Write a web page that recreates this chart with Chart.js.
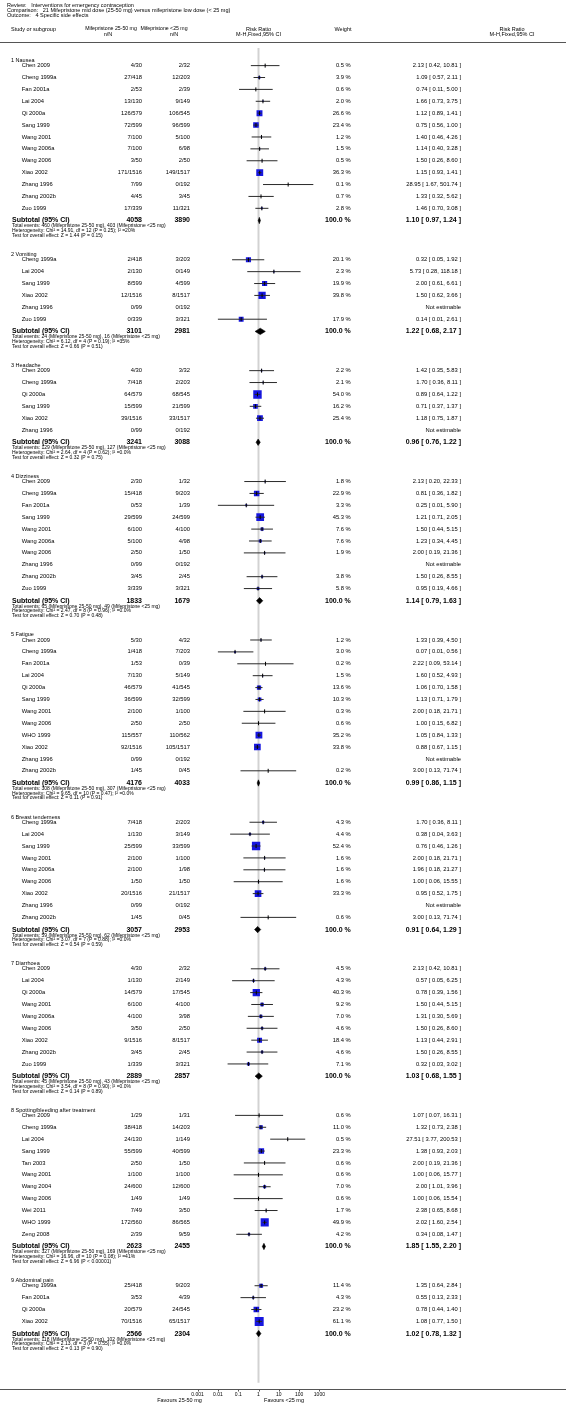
<!DOCTYPE html>
<html>
<head>
<meta charset="utf-8">
<script src="https://cdn.jsdelivr.net/npm/chart.js@4.4.1/dist/chart.umd.min.js"></script>
<style>
  html, body { margin: 0; padding: 0; background: #fff; }
  canvas { display: block; }
</style>
</head>
<body>
<canvas id="forest" width="566" height="1412"></canvas>
<script>
// subgroups and how many study rows each one has
const sections = ["1 Nausea", "2 Vomiting", "3 Headache", "4 Dizziness", "5 Fatigue",
  "6 Breast tenderness", "7 Diarrhoea", "8 Spotting/bleeding after treatment", "9 Abdominal pain"];
const sectionSizes = [13, 6, 6, 10, 12, 9, 9, 11, 4];

const studies = [
  "Chen 2009", "Cheng 1999a", "Fan 2001a", "Lai 2004", "Qi 2000a", "Sang 1999", "Wang 2001", "Wang 2006a", "Wang 2006", "Xiao 2002", "Zhang 1996", "Zhang 2002b", "Zuo 1999",
  "Cheng 1999a", "Lai 2004", "Sang 1999", "Xiao 2002", "Zhang 1996", "Zuo 1999",
  "Chen 2009", "Cheng 1999a", "Qi 2000a", "Sang 1999", "Xiao 2002", "Zhang 1996",
  "Chen 2009", "Cheng 1999a", "Fan 2001a", "Sang 1999", "Wang 2001", "Wang 2006a", "Wang 2006", "Zhang 1996", "Zhang 2002b", "Zuo 1999",
  "Chen 2009", "Cheng 1999a", "Fan 2001a", "Lai 2004", "Qi 2000a", "Sang 1999", "Wang 2001", "Wang 2006", "WHO 1999", "Xiao 2002", "Zhang 1996", "Zhang 2002b",
  "Cheng 1999a", "Lai 2004", "Sang 1999", "Wang 2001", "Wang 2006a", "Wang 2006", "Xiao 2002", "Zhang 1996", "Zhang 2002b",
  "Chen 2009", "Lai 2004", "Qi 2000a", "Wang 2001", "Wang 2006a", "Wang 2006", "Xiao 2002", "Zhang 2002b", "Zuo 1999",
  "Chen 2009", "Cheng 1999a", "Lai 2004", "Sang 1999", "Tan 2003", "Wang 2001", "Wang 2004", "Wang 2006", "Wei 2011", "WHO 1999", "Zeng 2008",
  "Cheng 1999a", "Fan 2001a", "Qi 2000a", "Xiao 2002"
];

// Mifepristone 25-50 mg  n/N
const midDose = [
  "4/30", "27/418", "2/53", "13/130", "126/579", "72/599", "7/100", "7/100", "3/50", "171/1516", "7/99", "4/45", "17/339",
  "2/418", "2/130", "8/599", "12/1516", "0/99", "0/339",
  "4/30", "7/418", "64/579", "15/599", "39/1516", "0/99",
  "2/30", "15/418", "0/53", "29/599", "6/100", "5/100", "2/50", "0/99", "3/45", "3/339",
  "5/30", "1/418", "1/53", "7/130", "46/579", "36/599", "2/100", "2/50", "115/557", "92/1516", "0/99", "1/45",
  "7/418", "1/130", "25/599", "2/100", "2/100", "1/50", "20/1516", "0/99", "1/45",
  "4/30", "1/130", "14/579", "6/100", "4/100", "3/50", "9/1516", "3/45", "1/339",
  "1/29", "38/418", "24/130", "55/599", "2/50", "1/100", "24/600", "1/49", "7/49", "172/560", "2/39",
  "25/418", "3/53", "20/579", "70/1516"
];

// Mifepristone <25 mg  n/N
const lowDose = [
  "2/32", "12/203", "2/39", "9/149", "106/545", "96/599", "5/100", "6/98", "2/50", "149/1517", "0/192", "3/45", "11/321",
  "3/203", "0/149", "4/599", "8/1517", "0/192", "3/321",
  "3/32", "2/203", "68/545", "21/599", "33/1517", "0/192",
  "1/32", "9/203", "1/39", "24/599", "4/100", "4/98", "1/50", "0/192", "2/45", "3/321",
  "4/32", "7/203", "0/39", "5/149", "41/545", "32/599", "1/100", "2/50", "110/562", "105/1517", "0/192", "0/45",
  "2/203", "3/149", "33/599", "1/100", "1/98", "1/50", "21/1517", "0/192", "0/45",
  "2/32", "2/149", "17/545", "4/100", "3/98", "2/50", "8/1517", "2/45", "3/321",
  "1/31", "14/203", "1/149", "40/599", "1/50", "1/100", "12/600", "1/49", "3/50", "86/565", "9/59",
  "9/203", "4/39", "24/545", "65/1517"
];

// weight % (null = not estimable)
const weights = [
  0.5, 3.9, 0.6, 2.0, 26.6, 23.4, 1.2, 1.5, 0.5, 36.3, 0.1, 0.7, 2.8,
  20.1, 2.3, 19.9, 39.8, null, 17.9,
  2.2, 2.1, 54.0, 16.2, 25.4, null,
  1.8, 22.9, 3.3, 45.3, 7.6, 7.6, 1.9, null, 3.8, 5.8,
  1.2, 3.0, 0.2, 1.5, 13.6, 10.3, 0.3, 0.6, 35.2, 33.8, null, 0.2,
  4.3, 4.4, 52.4, 1.6, 1.6, 1.6, 33.3, null, 0.6,
  4.5, 4.3, 40.3, 9.2, 7.0, 4.6, 18.4, 4.6, 7.1,
  0.6, 11.0, 0.5, 23.3, 0.6, 0.6, 7.0, 0.6, 1.7, 49.9, 4.2,
  11.4, 4.3, 23.2, 61.1
];

const riskRatio = [
  2.13, 1.09, 0.74, 1.66, 1.12, 0.75, 1.40, 1.14, 1.50, 1.15, 28.95, 1.33, 1.46,
  0.32, 5.73, 2.00, 1.50, null, 0.14,
  1.42, 1.70, 0.89, 0.71, 1.18, null,
  2.13, 0.81, 0.25, 1.21, 1.50, 1.23, 2.00, null, 1.50, 0.95,
  1.33, 0.07, 2.22, 1.60, 1.06, 1.13, 2.00, 1.00, 1.05, 0.88, null, 3.00,
  1.70, 0.38, 0.76, 2.00, 1.96, 1.00, 0.95, null, 3.00,
  2.13, 0.57, 0.78, 1.50, 1.31, 1.50, 1.13, 1.50, 0.32,
  1.07, 1.32, 27.51, 1.38, 2.00, 1.00, 2.00, 1.00, 2.38, 2.02, 0.34,
  1.35, 0.55, 0.78, 1.08
];

const ciLow = [
  0.42, 0.57, 0.11, 0.73, 0.89, 0.56, 0.46, 0.40, 0.26, 0.93, 1.67, 0.32, 0.70,
  0.05, 0.28, 0.61, 0.62, null, 0.01,
  0.35, 0.36, 0.64, 0.37, 0.75, null,
  0.20, 0.36, 0.01, 0.71, 0.44, 0.34, 0.19, null, 0.26, 0.19,
  0.39, 0.01, 0.09, 0.52, 0.70, 0.71, 0.18, 0.15, 0.84, 0.67, null, 0.13,
  0.36, 0.04, 0.46, 0.18, 0.18, 0.06, 0.52, null, 0.13,
  0.42, 0.05, 0.39, 0.44, 0.30, 0.26, 0.44, 0.26, 0.03,
  0.07, 0.73, 3.77, 0.93, 0.19, 0.06, 1.01, 0.06, 0.65, 1.60, 0.08,
  0.64, 0.13, 0.44, 0.77
];

const ciHigh = [
  10.81, 2.11, 5.00, 3.75, 1.41, 1.00, 4.26, 3.28, 8.60, 1.41, 501.74, 5.62, 3.08,
  1.92, 118.18, 6.61, 3.66, null, 2.61,
  5.83, 8.11, 1.22, 1.37, 1.87, null,
  22.33, 1.82, 5.90, 2.05, 5.15, 4.45, 21.36, null, 8.55, 4.66,
  4.50, 0.56, 53.14, 4.93, 1.58, 1.79, 21.71, 6.82, 1.33, 1.15, null, 71.74,
  8.11, 3.63, 1.26, 21.71, 21.27, 15.55, 1.75, null, 71.74,
  10.81, 6.25, 1.56, 5.15, 5.69, 8.60, 2.91, 8.55, 3.02,
  16.31, 2.38, 200.53, 2.03, 21.36, 15.77, 3.96, 15.54, 8.68, 2.54, 1.47,
  2.84, 2.33, 1.40, 1.50
];

// subtotals per subgroup
const subTotalMid = [4058, 3101, 3241, 1833, 4176, 3057, 2889, 2623, 2566];
const subTotalLow = [3890, 2981, 3088, 1679, 4033, 2953, 2857, 2455, 2304];
const subRR = [1.10, 1.22, 0.96, 1.14, 0.99, 0.91, 1.03, 1.85, 1.02];
const subLow = [0.97, 0.68, 0.76, 0.79, 0.86, 0.64, 0.68, 1.55, 0.78];
const subHigh = [1.24, 2.17, 1.22, 1.63, 1.15, 1.29, 1.55, 2.20, 1.32];
const eventsMid = [460, 24, 129, 65, 308, 59, 45, 327, 118];
const eventsLow = [403, 16, 127, 49, 307, 62, 43, 169, 102];
const chiSq = ["14.91", "6.12", "2.64", "2.47", "9.65", "3.07", "3.54", "16.96", "2.13"];
const dfs = [12, 4, 4, 8, 10, 7, 8, 10, 3];
const pHet = ["0.25", "0.19", "0.62", "0.96", "0.47", "0.88", "0.90", "0.08", "0.55"];
const iSq = ["20%", "35%", "0.0%", "0.0%", "0.0%", "0.0%", "0.0%", "41%", "0.0%"];
const zVal = ["1.44", "0.66", "0.32", "0.70", "0.11", "0.54", "0.14", "6.96", "0.13"];
const pOverall = ["= 0.15", "= 0.51", "= 0.75", "= 0.48", "= 0.91", "= 0.59", "= 0.89", "< 0.00001", "= 0.90"];

const tickValues = [0.001, 0.01, 0.1, 1, 10, 100, 1000];
const tickLabels = ["0.001", "0.01", "0.1", "1", "10", "100", "1000"];

// ---- layout (pixels) ----
const W = 566, H = 1412;
const FIRST_LABEL = 54.5, LABEL_GAP = 5.3, PITCH = 12, SUB_GAP = 12.3, NEXT_GAP = 34.3;
const HEADER_LINE = 42, AXIS_Y = 1389;
const FONT = '"Liberation Sans", Arial, sans-serif';

const rowY = [], labelY = [], subY = [];
let cursor = FIRST_LABEL;
sectionSizes.forEach((n, s) => {
  labelY.push(cursor);
  for (let i = 0; i < n; i++) rowY.push(cursor + LABEL_GAP + i * PITCH);
  subY.push(cursor + LABEL_GAP + (n - 1) * PITCH + SUB_GAP);
  cursor = subY[s] + NEXT_GAP;
});

const est = studies.map((s, i) => i).filter(i => riskRatio[i] != null);

const datasets = [];
// line of no effect
datasets.push({
  data: [{ x: 1, y: HEADER_LINE }, { x: 1, y: AXIS_Y }],
  showLine: true, borderColor: '#d2d2d2', borderWidth: 2, pointRadius: 0, order: 9
});
// weight squares
datasets.push({
  data: est.map(i => ({ x: riskRatio[i], y: rowY[i] })),
  pointStyle: 'rect',
  pointRadius: est.map(i => 1.15 * Math.sqrt(weights[i]) / Math.SQRT2),
  backgroundColor: '#1616e0', borderWidth: 0, order: 4
});
// confidence intervals
est.forEach(i => {
  datasets.push({
    data: [{ x: ciLow[i], y: rowY[i] }, { x: ciHigh[i], y: rowY[i] }],
    showLine: true, borderColor: '#2a2a2a', borderWidth: 1, pointRadius: 0, order: 3
  });
});
// point estimate ticks
datasets.push({
  data: est.map(i => ({ x: riskRatio[i], y: rowY[i] })),
  pointStyle: 'line', rotation: 90, pointRadius: 2,
  borderColor: '#000', borderWidth: 1, order: 2
});
// subtotal diamonds
subRR.forEach((v, s) => {
  const y = subY[s], h = 3.2;
  datasets.push({
    data: [{ x: subLow[s], y }, { x: v, y: y - h }, { x: subHigh[s], y }, { x: v, y: y + h }, { x: subLow[s], y }],
    showLine: true, fill: 'shape', borderColor: '#000', backgroundColor: '#000',
    borderWidth: 0.6, pointRadius: 0, order: 1
  });
});

function fmt(v) { return v.toFixed(2); }
function ci(r, l, h) { return fmt(r) + ' [ ' + fmt(l) + ', ' + fmt(h) + ' ]'; }

function put(ctx, s, x, y, align, size, bold) {
  ctx.font = (bold ? 'bold ' : '') + size + 'px ' + FONT;
  ctx.textAlign = align;
  ctx.textBaseline = 'middle';
  ctx.fillText(s, x, y);
}

const forestText = {
  id: 'forestText',
  afterDraw(chart) {
    const ctx = chart.ctx;
    const ys = chart.scales.y, xs = chart.scales.x;
    const Y = v => ys.getPixelForValue(v);
    ctx.save();
    ctx.fillStyle = '#000';

    put(ctx, 'Review:   Interventions for emergency contraception', 7, 5, 'left', 5.5);
    put(ctx, 'Comparison:   21 Mifepristone mid dose (25-50 mg) versus mifepristone low dose (< 25 mg)', 7, 10, 'left', 5.5);
    put(ctx, 'Outcome:   4 Specific side effects', 7, 15, 'left', 5.5);

    const h1 = 29, h2 = 34;
    put(ctx, 'Study or subgroup', 11, h1, 'left', 5.5);
    put(ctx, 'Mifepristone 25-50 mg', 111, h1, 'center', 5.2);
    put(ctx, 'n/N', 108, h2, 'center', 5.5);
    put(ctx, 'Mifepristone <25 mg', 164, h1, 'center', 5.2);
    put(ctx, 'n/N', 174, h2, 'center', 5.5);
    put(ctx, 'Risk Ratio', xs.getPixelForValue(1), h1, 'center', 5.5);
    put(ctx, 'M-H,Fixed,95% CI', xs.getPixelForValue(1), h2, 'center', 5.5);
    put(ctx, 'Weight', 343, h1, 'center', 5.5);
    put(ctx, 'Risk Ratio', 512, h1, 'center', 5.5);
    put(ctx, 'M-H,Fixed,95% CI', 512, h2, 'center', 5.5);

    ctx.strokeStyle = '#555';
    ctx.lineWidth = 1;
    ctx.beginPath();
    ctx.moveTo(0, HEADER_LINE + 0.5); ctx.lineTo(W, HEADER_LINE + 0.5);
    ctx.moveTo(0, AXIS_Y + 0.5); ctx.lineTo(W, AXIS_Y + 0.5);
    tickValues.forEach(v => {
      const x = Math.round(xs.getPixelForValue(v)) + 0.5;
      ctx.moveTo(x, AXIS_Y); ctx.lineTo(x, AXIS_Y + 2.5);
    });
    ctx.stroke();

    sections.forEach((name, s) => {
      put(ctx, name, 11, Y(labelY[s]), 'left', 5.5);
      const y = Y(subY[s]);
      put(ctx, 'Subtotal (95% CI)', 12, y, 'left', 7, true);
      put(ctx, String(subTotalMid[s]), 142, y, 'right', 7, true);
      put(ctx, String(subTotalLow[s]), 190, y, 'right', 7, true);
      put(ctx, '100.0 %', 350.7, y, 'right', 7, true);
      put(ctx, ci(subRR[s], subLow[s], subHigh[s]), 461, y, 'right', 7, true);
      put(ctx, 'Total events: ' + eventsMid[s] + ' (Mifepristone 25-50 mg), ' + eventsLow[s] + ' (Mifepristone <25 mg)', 12, y + 5.6, 'left', 5);
      put(ctx, 'Heterogeneity: Chi\u00b2 = ' + chiSq[s] + ', df = ' + dfs[s] + ' (P = ' + pHet[s] + '); I\u00b2 =' + iSq[s], 12, y + 10.3, 'left', 5);
      put(ctx, 'Test for overall effect: Z = ' + zVal[s] + ' (P ' + pOverall[s] + ')', 12, y + 15, 'left', 5);
    });

    studies.forEach((name, i) => {
      const y = Y(rowY[i]);
      put(ctx, name, 21.7, y, 'left', 5.8);
      put(ctx, midDose[i], 142, y, 'right', 5.8);
      put(ctx, lowDose[i], 190, y, 'right', 5.8);
      if (riskRatio[i] == null) {
        put(ctx, 'Not estimable', 461, y, 'right', 5.8);
      } else {
        put(ctx, weights[i].toFixed(1) + ' %', 350.7, y, 'right', 5.8);
        put(ctx, ci(riskRatio[i], ciLow[i], ciHigh[i]), 461, y, 'right', 5.8);
      }
    });

    tickValues.forEach((v, k) => {
      put(ctx, tickLabels[k], xs.getPixelForValue(v), AXIS_Y + 6, 'center', 5);
    });
    put(ctx, 'Favours 25-50 mg', 179.5, AXIS_Y + 11, 'center', 5.5);
    put(ctx, 'Favours <25 mg', 284, AXIS_Y + 11, 'center', 5.5);
    ctx.restore();
  }
};

new Chart(document.getElementById('forest'), {
  type: 'scatter',
  data: { datasets },
  options: {
    responsive: false,
    animation: false,
    devicePixelRatio: 1,
    layout: { padding: { left: 197.6, right: W - 319.4, top: 0, bottom: 0 } },
    scales: {
      x: { type: 'logarithmic', min: 0.001, max: 1000, display: false },
      y: { type: 'linear', min: 0, max: H, reverse: true, display: false }
    },
    elements: { line: { tension: 0 } },
    plugins: { legend: { display: false }, tooltip: { enabled: false } }
  },
  plugins: [forestText]
});
</script>
</body>
</html>
